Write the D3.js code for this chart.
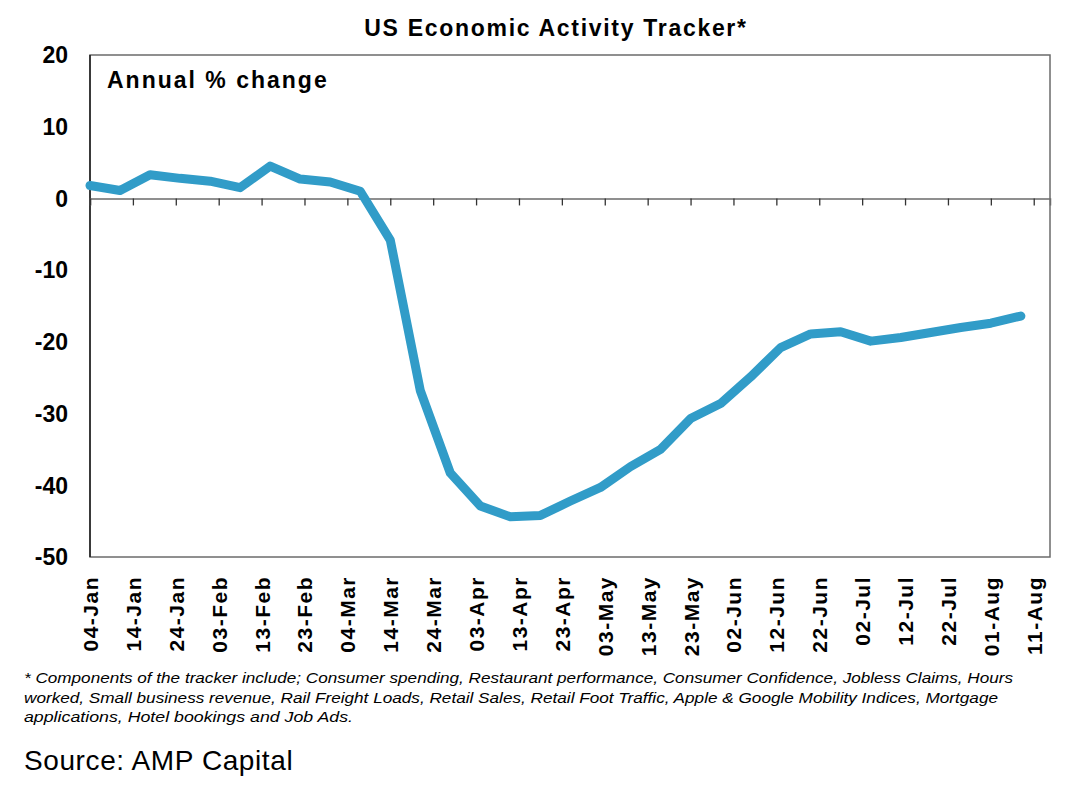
<!DOCTYPE html>
<html>
<head>
<meta charset="utf-8">
<script src="https://cdn.jsdelivr.net/npm/d3@7"></script>
<style>
  body { margin: 0; background: #fff; }
  svg { display: block; font-family: "Liberation Sans", Arial, sans-serif; }
</style>
</head>
<body>
<svg id="chart" width="1086" height="801"></svg>
<script>
// weekly readings, annual % change
const dates = ["2020-01-04","2020-01-11","2020-01-18","2020-01-25","2020-02-01","2020-02-08",
  "2020-02-15","2020-02-22","2020-02-29","2020-03-07","2020-03-14","2020-03-21","2020-03-28",
  "2020-04-04","2020-04-11","2020-04-18","2020-04-25","2020-05-02","2020-05-09","2020-05-16",
  "2020-05-23","2020-05-30","2020-06-06","2020-06-13","2020-06-20","2020-06-27","2020-07-04",
  "2020-07-11","2020-07-18","2020-07-25","2020-08-01","2020-08-08"];
const values = [1.8, 1.1, 3.3, 2.8, 2.4, 1.5, 4.5, 2.7, 2.3, 1.0, -5.8, -26.8, -38.3,
  -42.9, -44.4, -44.2, -42.2, -40.3, -37.4, -35.0, -30.7, -28.6, -24.9, -20.8, -18.9,
  -18.6, -19.9, -19.4, -18.7, -18.0, -17.4, -16.4];
const yTicks = [20, 10, 0, -10, -20, -30, -40, -50];
const title = "US Economic Activity Tracker*";
const unitLabel = "Annual % change";
const footnote = [
  "* Components of the tracker include; Consumer spending, Restaurant performance, Consumer Confidence, Jobless Claims, Hours",
  "worked,  Small business revenue, Rail Freight Loads, Retail Sales, Retail Foot Traffic, Apple & Google Mobility Indices, Mortgage",
  "applications,  Hotel bookings and Job Ads."
];
const footWidths = [989, 974, 329];
const source = "Source: AMP Capital";

const svg = d3.select("#chart");
const L = 90, R = 1050, T = 55, B = 557;

const parse = d3.utcParse("%Y-%m-%d");
const data = dates.map((d, i) => ({date: parse(d), v: values[i]}));

const t0 = parse("2020-01-04");
const x = d3.scaleUtc()
    .domain([t0, new Date(Date.UTC(2020, 7, 14, 19))])
    .range([L, R]);
const y = d3.scaleLinear().domain([-50, 20]).range([B, T]);

// frame
svg.append("rect")
    .attr("x", L).attr("y", T).attr("width", R - L).attr("height", B - T)
    .attr("fill", "none").attr("stroke", "#6b6b6b").attr("stroke-width", 1.5);

// y axis (no ticks, labels only)
svg.append("line")
    .attr("x1", L).attr("x2", L).attr("y1", T).attr("y2", B)
    .attr("stroke", "#000").attr("stroke-width", 1.2);
svg.append("g").selectAll("text").data(yTicks).join("text")
    .attr("x", 68).attr("y", d => y(d)).attr("dy", "0.36em")
    .attr("text-anchor", "end")
    .attr("font-size", 23).attr("font-weight", "bold")
    .text(d => d);

// x axis on the zero line
const xTicks = d3.utcDay.range(t0, new Date(Date.UTC(2020, 7, 12)), 10);
const xAxis = d3.axisBottom(x).tickValues(xTicks).tickSize(7).tickFormat("");
const gx = svg.append("g").attr("transform", `translate(0,${y(0)})`).call(xAxis);
gx.select(".domain").attr("stroke", "#6b6b6b").attr("stroke-width", 1.5);
gx.selectAll(".tick line").attr("stroke", "#333").attr("stroke-width", 1.3);

// rotated date labels below the plot
const fmt = d3.utcFormat("%d-%b");
svg.append("g").selectAll("text").data(xTicks).join("text")
    .attr("transform", d => `translate(${x(d) + 8},576) rotate(-90)`)
    .attr("text-anchor", "end")
    .attr("font-size", 21).attr("font-weight", "bold")
    .attr("letter-spacing", "1.5")
    .text(d => fmt(d));

// series
svg.append("path").datum(data)
    .attr("fill", "none").attr("stroke", "#319cc8").attr("stroke-width", 9)
    .attr("stroke-linejoin", "round").attr("stroke-linecap", "round")
    .attr("d", d3.line().x(d => x(d.date)).y(d => y(d.v)));

// texts
svg.append("text").attr("x", 556).attr("y", 36).attr("text-anchor", "middle")
    .attr("font-size", 23).attr("font-weight", "bold")
    .attr("letter-spacing", "1.7").text(title);
svg.append("text").attr("x", 107).attr("y", 88)
    .attr("font-size", 23).attr("font-weight", "bold")
    .attr("letter-spacing", "2").text(unitLabel);

svg.append("g").selectAll("text").data(footnote).join("text")
    .attr("x", 24).attr("y", (d, i) => 683 + i * 19.5)
    .attr("font-size", 15.5).attr("font-style", "italic")
    .attr("font-family", "'Liberation Sans Narrow', 'Liberation Sans', Arial, sans-serif")
    .attr("textLength", (d, i) => footWidths[i]).attr("lengthAdjust", "spacingAndGlyphs")
    .text(d => d);

svg.append("text").attr("x", 24).attr("y", 770)
    .attr("font-size", 28).attr("letter-spacing", "0.6").text(source);
</script>
</body>
</html>
